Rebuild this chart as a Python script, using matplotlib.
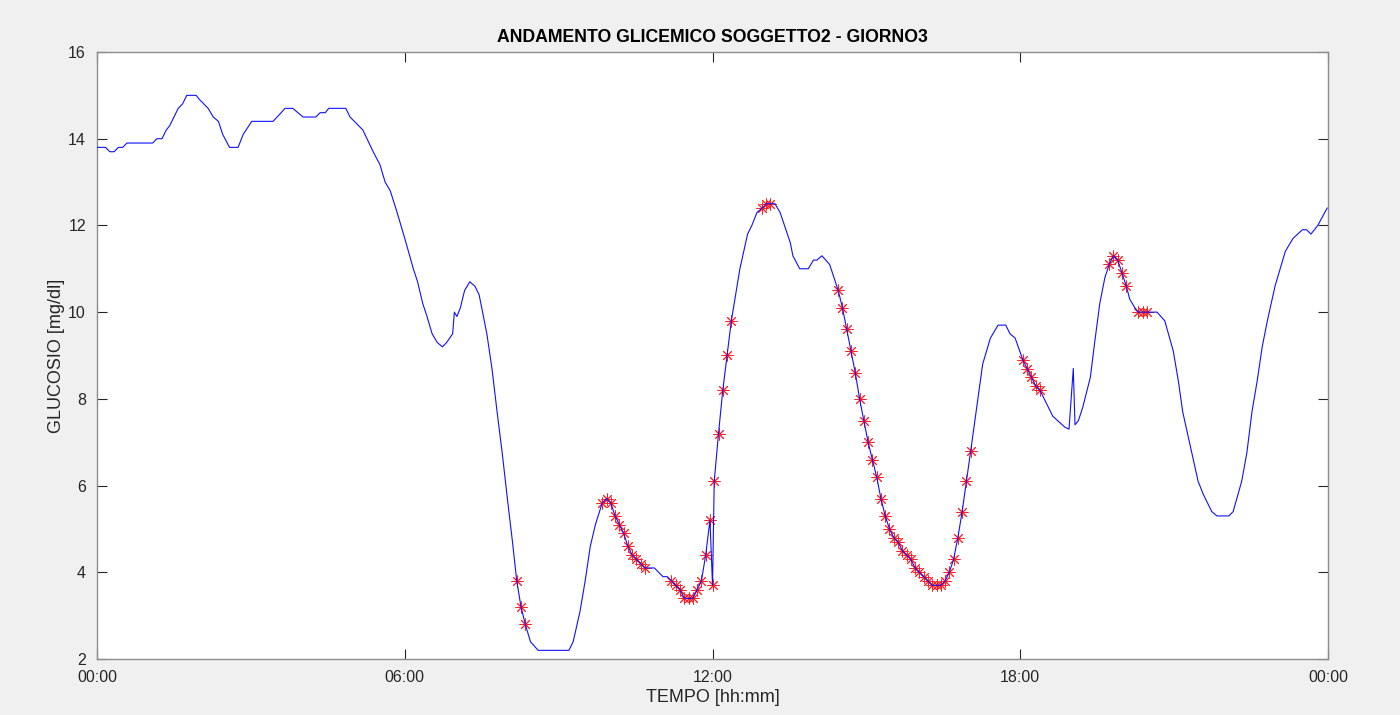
import matplotlib
matplotlib.use("Agg")
import matplotlib.pyplot as plt

# glucose trace, time in minutes from 00:00
t_min = [0, 10, 15, 20, 25, 30, 35, 65, 70, 76, 81, 85, 90, 95, 100, 105, 116, 120,
         130, 136, 142, 147, 155, 165, 171, 181, 206, 220, 229, 241, 256, 261, 267,
         271, 291, 296, 311, 323, 331, 337, 343, 351, 357, 360, 370, 375, 381, 386,
         392, 398, 404, 409, 416, 418, 421, 425, 430, 436, 442, 447, 456, 462, 468,
         474, 480, 486, 491, 496, 501, 507, 516, 552, 557, 565, 571, 577, 583,
         591, 596, 601, 606, 611, 616, 621, 626, 631, 636, 641, 647, 652, 657, 662, 667,
         672, 677, 682, 687, 692, 697, 702, 707, 712, 717, 720, 722, 727, 732, 737, 742,
         752, 761, 766, 772, 778, 783, 787, 793, 799, 811, 814, 822, 832, 838, 842,
         848, 857,
         867, 872, 877, 882, 887, 892, 897, 902, 907, 912, 917, 922, 927, 932, 937, 942,
         947, 952, 957, 962, 967, 972, 977, 982, 987, 992, 997, 1002, 1007, 1012, 1017, 1022,
         1029, 1036, 1045, 1054, 1063, 1068, 1074,
         1083, 1088, 1093, 1098, 1103, 1118, 1132, 1137, 1142, 1144, 1148, 1153, 1162,
         1167, 1173, 1179, 1184, 1189, 1194, 1199, 1204, 1208, 1214, 1218, 1223, 1228,
         1240, 1249, 1259, 1265, 1270, 1279, 1288, 1294, 1304, 1310, 1324, 1329, 1339,
         1345, 1351, 1357, 1363, 1369, 1378, 1384, 1390, 1399, 1410, 1415, 1420, 1428, 1439]
glucose = [13.8, 13.8, 13.7, 13.7, 13.8, 13.8, 13.9, 13.9, 14.0, 14.0, 14.2, 14.3, 14.5,
           14.7, 14.8, 15.0, 15.0, 14.9, 14.7, 14.5, 14.4, 14.1, 13.8, 13.8, 14.1, 14.4,
           14.4, 14.7, 14.7, 14.5, 14.5, 14.6, 14.6, 14.7, 14.7, 14.5, 14.2, 13.7, 13.4,
           13.0, 12.8, 12.3, 11.9, 11.7, 11.0, 10.7, 10.2, 9.9, 9.5, 9.3, 9.2, 9.3, 9.5,
           10.0, 9.9, 10.1, 10.5, 10.7, 10.6, 10.4, 9.5, 8.7, 7.7, 6.75, 5.7, 4.7, 3.8,
           3.2, 2.8, 2.4, 2.2, 2.2, 2.4, 3.1, 3.8, 4.6, 5.1,
           5.6, 5.7, 5.6, 5.3, 5.1, 4.9, 4.6, 4.4, 4.3, 4.2, 4.1, 4.1, 4.1, 4.0, 3.9, 3.9,
           3.8, 3.7, 3.6, 3.4, 3.4, 3.4, 3.6, 3.8, 4.4, 5.2, 3.7, 6.1, 7.2, 8.2, 9.0, 9.8,
           11.0, 11.8, 12.0, 12.3, 12.4, 12.5, 12.5, 12.5, 12.3, 11.6, 11.3, 11.0, 11.0,
           11.2, 11.2, 11.3, 11.1,
           10.5, 10.1, 9.6, 9.1, 8.6, 8.0, 7.5, 7.0, 6.6, 6.2, 5.7, 5.3, 5.0, 4.8, 4.7, 4.5,
           4.4, 4.3, 4.1, 4.0, 3.9, 3.8, 3.7, 3.7, 3.7, 3.8, 4.0, 4.3, 4.8, 5.4, 6.1, 6.8,
           7.8, 8.8, 9.4, 9.7, 9.7, 9.5, 9.4,
           8.9, 8.7, 8.5, 8.3, 8.2, 7.6, 7.35, 7.3, 8.7, 7.4, 7.5, 7.8, 8.5,
           9.3, 10.2, 10.8, 11.1, 11.3, 11.2, 10.9, 10.6, 10.3, 10.1, 10.0, 10.0, 10.0,
           10.0, 9.8, 9.1, 8.4, 7.7, 6.9, 6.1, 5.8, 5.4, 5.3, 5.3, 5.4, 6.1,
           6.75, 7.7, 8.4, 9.2, 9.8, 10.6, 11.0, 11.4, 11.7, 11.9, 11.9, 11.8, 12.0, 12.4]

# flagged samples (red asterisks)
mark_t = [491, 496, 501,
          591, 596, 601, 606, 611, 616, 621, 626, 631, 636, 641,
          672, 677, 682, 687, 692, 697, 702, 707, 712, 717, 720, 722, 727, 732, 737, 742,
          778, 783, 787,
          867, 872, 877, 882, 887, 892, 897, 902, 907, 912, 917, 922, 927, 932, 937, 942,
          947, 952, 957, 962, 967, 972, 977, 982, 987, 992, 997, 1002, 1007, 1012, 1017, 1022,
          1083, 1088, 1093, 1098, 1103,
          1184, 1189, 1194, 1199, 1204,
          1218, 1223, 1228]
mark_v = [3.8, 3.2, 2.8,
          5.6, 5.7, 5.6, 5.3, 5.1, 4.9, 4.6, 4.4, 4.3, 4.2, 4.1,
          3.8, 3.7, 3.6, 3.4, 3.4, 3.4, 3.6, 3.8, 4.4, 5.2, 3.7, 6.1, 7.2, 8.2, 9.0, 9.8,
          12.4, 12.5, 12.5,
          10.5, 10.1, 9.6, 9.1, 8.6, 8.0, 7.5, 7.0, 6.6, 6.2, 5.7, 5.3, 5.0, 4.8, 4.7, 4.5,
          4.4, 4.3, 4.1, 4.0, 3.9, 3.8, 3.7, 3.7, 3.7, 3.8, 4.0, 4.3, 4.8, 5.4, 6.1, 6.8,
          8.9, 8.7, 8.5, 8.3, 8.2,
          11.1, 11.3, 11.2, 10.9, 10.6,
          10.0, 10.0, 10.0]

xtick_pos = [0, 360, 720, 1080, 1440]
xtick_lab = ["00:00", "06:00", "12:00", "18:00", "00:00"]
ytick_pos = [2, 4, 6, 8, 10, 12, 14, 16]

plt.rcParams['font.family'] = ['Liberation Sans', 'DejaVu Sans']

fig = plt.figure(figsize=(14, 7.15), dpi=100, facecolor='#f0f0f0')
ax = fig.add_axes([0.0693, 0.0783, 0.8793, 0.849])
ax.set_facecolor('white')

ax.plot(mark_t, mark_v, linestyle='none', marker=(8, 2, 0), markersize=8.5,
        markeredgecolor='#ff2020', markeredgewidth=0.7, zorder=2)
ax.plot(t_min, glucose, color='#1010ff', linewidth=0.8, zorder=3)

ax.set_xlim(0, 1440)
ax.set_ylim(2, 16)
ax.set_xticks(xtick_pos)
ax.set_xticklabels(xtick_lab)
ax.set_yticks(ytick_pos)

for s in ax.spines.values():
    s.set_color('#8c8c8c')
    s.set_linewidth(1.0)
ax.tick_params(direction='in', top=True, right=True, length=7, width=0.8,
               color='#262626', labelcolor='#262626', labelsize=11.5, pad=8)

ax.set_title("ANDAMENTO GLICEMICO SOGGETTO2 - GIORNO3", fontsize=12.7,
             fontweight='bold', pad=7)
ax.set_xlabel("TEMPO [hh:mm]", fontsize=13, color='#262626', labelpad=3)
ax.set_ylabel("GLUCOSIO [mg/dl]", fontsize=13, color='#262626', labelpad=2)

fig.savefig("out.png", dpi=100, facecolor=fig.get_facecolor())
